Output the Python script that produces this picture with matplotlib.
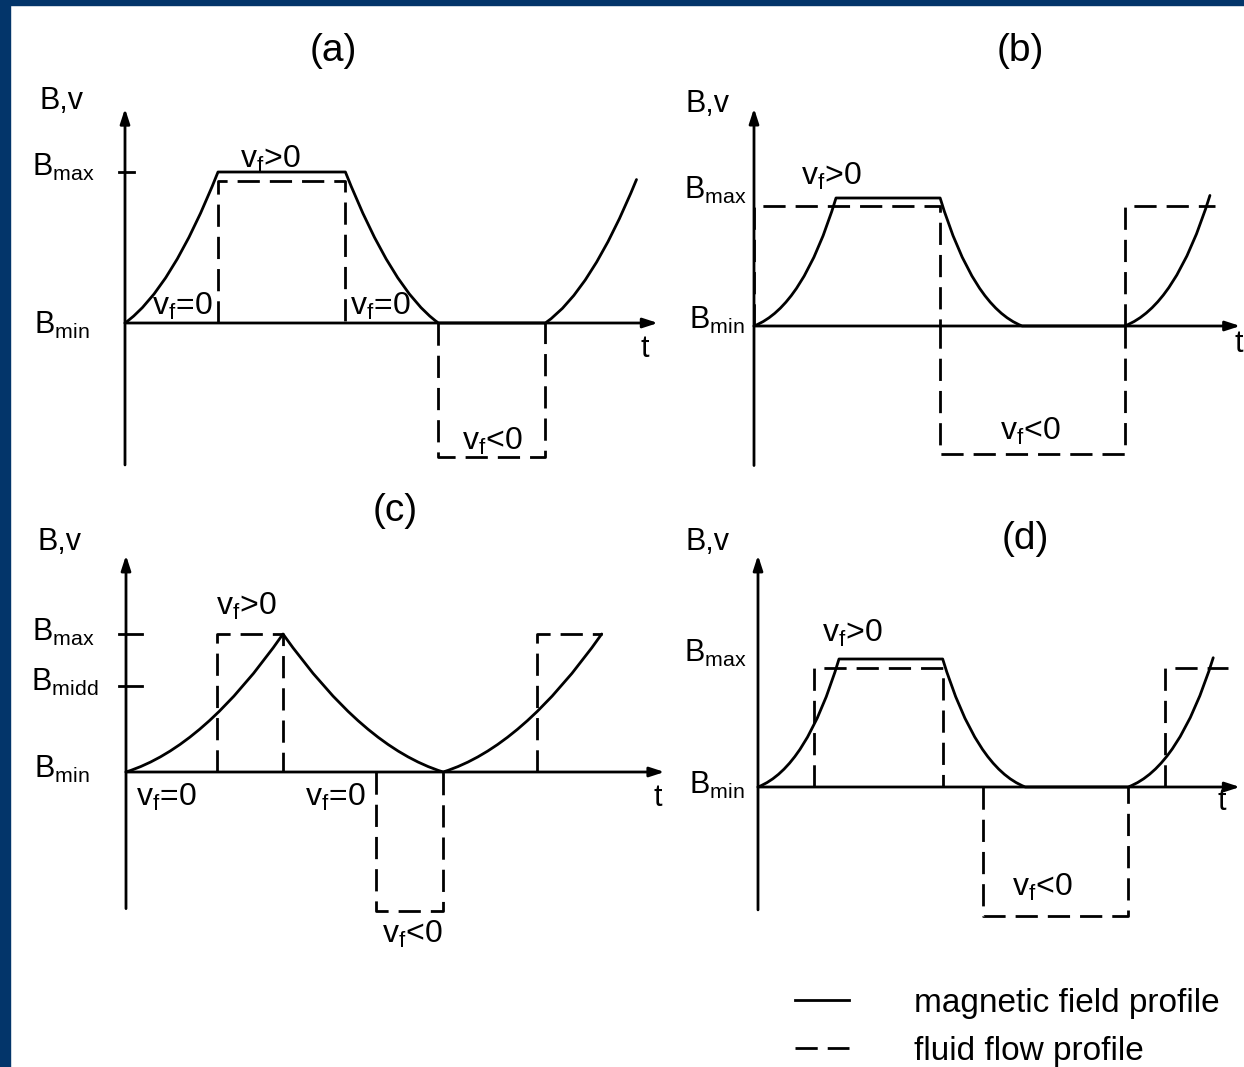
import matplotlib
matplotlib.use("Agg")
import matplotlib.pyplot as plt
from matplotlib.path import Path
from matplotlib.patches import PathPatch, Rectangle
from matplotlib.lines import Line2D

plt.rcParams["font.family"] = ["Liberation Sans", "DejaVu Sans"]
plt.rcParams["mathtext.fontset"] = "custom"
plt.rcParams["mathtext.rm"] = "Liberation Sans"
plt.rcParams["mathtext.it"] = "Liberation Sans:italic"
plt.rcParams["mathtext.bf"] = "Liberation Sans:bold"
plt.rcParams["mathtext.sf"] = "Liberation Sans"
plt.rcParams["mathtext.default"] = "regular"

# ---------------------------------------------------------------------------
# Magnetic field profiles: knot times (one unit = one ramp duration) and
# field levels (0 = B_min, 1 = B_max).  Flow profiles: pulses given by their
# start time, end time and normalised fluid velocity.
# ---------------------------------------------------------------------------
# (a) trapezoidal field, flow during plateau and during the pause
field_t_a = [0.0, 1.0, 2.37, 3.37, 4.52, 5.50]
field_b_a = [0.0, 1.0, 1.0, 0.0, 0.0, 0.95]
flow_on_a = [1.0, 3.37]
flow_off_a = [2.37, 4.52]
flow_v_a = [0.94, -0.89]

# (b) trapezoidal field, flow reverses at the start of the decay
field_t_b = [0.0, 1.0, 2.27, 3.27, 4.52, 5.56]
field_b_b = [0.0, 1.0, 1.0, 0.0, 0.0, 1.02]
flow_on_b = [0.0, 2.27, 4.52]
flow_off_b = [2.27, 4.52, 5.62]
flow_v_b = [0.94, -1.00, 0.94]

# (c) triangular field with an intermediate level B_midd
field_t_c = [0.0, 1.0, 2.02, 3.03]
field_b_c = [0.0, 1.0, 0.0, 1.0]
flow_on_c = [0.58, 1.59, 2.62]
flow_off_c = [1.0, 2.02, 3.03]
flow_v_c = [1.0, -1.01, 1.0]
b_midd_c = 0.62

# (d) trapezoidal field, flow switched during the ramps
field_t_d = [0.0, 1.0, 2.28, 3.30, 4.57, 5.62]
field_b_d = [0.0, 1.0, 1.0, 0.0, 0.0, 1.01]
flow_on_d = [0.69, 2.78, 5.02]
flow_off_d = [2.28, 4.57, 5.80]
flow_v_d = [0.93, -1.01, 0.93]

# ---------------------------------------------------------------------------
W, H = 1244, 1067
LW = 2.0
DASH = (0, (8, 3.6))
NAVY = "#03356a"

fig = plt.figure(figsize=(W / 100, H / 100), dpi=100)
fig.patch.set_facecolor("white")


def fpos(x, y):
    """Pixel position (from top-left) -> figure fraction."""
    return x / W, 1 - y / H


def panel(origin, sx, sy):
    """Transparent full-figure axes whose data origin sits at `origin`."""
    ox, oy = origin
    ax = fig.add_axes([0, 0, 1, 1])
    ax.set_xlim(-ox / sx, (W - ox) / sx)
    ax.set_ylim(-(H - oy) / sy, oy / sy)
    ax.set_axis_off()
    ax.patch.set_alpha(0)
    return ax


def draw(ax, field_t, field_b, bend, on, off, vel, open_end,
         y_lo, y_hi, x_tip, ticks=(), tick_w=(0.06, 0.1)):
    arrow = dict(arrowstyle="-|>,head_length=0.4,head_width=0.13", lw=LW,
                 color="k", shrinkA=0, shrinkB=0, mutation_scale=22)
    ax.annotate("", xy=(0, y_hi), xytext=(0, y_lo), arrowprops=arrow)
    ax.annotate("", xy=(x_tip, 0), xytext=(0, 0), arrowprops=arrow)
    for lvl in ticks:
        ax.plot([-tick_w[0], tick_w[1]], [lvl, lvl], color="k", lw=LW)

    # field: flat parts as lines, ramps as quadratic Bezier arcs; `bend`
    # places the control point (fraction of ramp time from the low end,
    # fraction of the ramp height)
    cx, cy = bend
    verts = [(field_t[0], field_b[0])]
    codes = [Path.MOVETO]
    for i in range(1, len(field_t)):
        t0, b0, t1, b1 = field_t[i - 1], field_b[i - 1], field_t[i], field_b[i]
        if b0 == b1:
            verts.append((t1, b1))
            codes.append(Path.LINETO)
            continue
        dt, h, low = t1 - t0, abs(b1 - b0), min(b0, b1)
        frac = cx if b1 > b0 else 1 - cx
        verts += [(t0 + frac * dt, low + cy * h), (t1, b1)]
        codes += [Path.CURVE3, Path.CURVE3]
    ax.add_patch(PathPatch(Path(verts, codes), fill=False, lw=LW, ec="k",
                           joinstyle="round", capstyle="round"))

    # fluid flow pulses
    n = len(on)
    for k in range(n):
        xs, ys = [on[k], on[k], off[k]], [0, vel[k], vel[k]]
        if not (open_end and k == n - 1):
            xs.append(off[k])
            ys.append(0)
        ax.plot(xs, ys, color="k", lw=LW, ls=DASH, dash_capstyle="butt")


ax_a = panel((125, 323), 93, 151)
draw(ax_a, field_t_a, field_b_a, (0.5, 0.22), flow_on_a, flow_off_a, flow_v_a,
     False, -0.94, 1.42, 5.73, ticks=[1.0])

ax_b = panel((754, 326), 82, 128)
draw(ax_b, field_t_b, field_b_b, (0.6, 0.15), flow_on_b, flow_off_b, flow_v_b,
     True, -1.09, 1.70, 5.93)

ax_c = panel((126, 772), 157, 138)
draw(ax_c, field_t_c, field_b_c, (0.5, 0.18), flow_on_c, flow_off_c, flow_v_c,
     True, -0.99, 1.57, 3.43, ticks=[1.0, b_midd_c], tick_w=(0.045, 0.1))

ax_d = panel((758, 787), 81, 128)
draw(ax_d, field_t_d, field_b_d, (0.6, 0.15), flow_on_d, flow_off_d, flow_v_d,
     True, -0.96, 1.81, 5.95)

# ---------------------------------------------------------------------------
# Text
FS = 22
titles = [("(a)", 333, 51), ("(b)", 1020, 51), ("(c)", 395, 511), ("(d)", 1025, 539)]
for s, x, y in titles:
    fig.text(*fpos(x, y), s, ha="center", va="center", fontsize=28)

for x, y in [(40, 109), (686, 112), (38, 550), (686, 550)]:
    fig.text(*fpos(x, y), "B,v", ha="left", va="baseline", fontsize=FS)

levels = [
    ("max", 95, 176), ("min", 90, 334),
    ("max", 747, 199), ("min", 745, 329),
    ("max", 95, 641), ("midd", 98, 691), ("min", 90, 778),
    ("max", 747, 662), ("min", 745, 794),
]
for sub, x, y in levels:
    fig.text(*fpos(x, y), r"$\mathregular{B_{%s}}$" % sub, ha="right",
             va="baseline", fontsize=FS)

flow_labels = [
    (">", 270, 168), ("=", 182, 315), ("=", 380, 315), ("<", 492, 450),
    (">", 831, 185), ("<", 1030, 440),
    (">", 246, 615), ("=", 166, 806), ("=", 335, 806), ("<", 412, 943),
    (">", 852, 642), ("<", 1042, 896),
]
for op, x, y in flow_labels:
    fig.text(*fpos(x, y), r"$\mathregular{v_f}\text{%s0}$" % op, ha="center",
             va="baseline", fontsize=23)

for x, y in [(645, 357), (1239, 352), (658, 806), (1222, 810)]:
    fig.text(*fpos(x, y), "t", ha="center", va="baseline", fontsize=FS)

# legend
handles = [Line2D([], [], color="k", lw=LW),
           Line2D([], [], color="k", lw=LW, ls=DASH, dash_capstyle="butt")]
fig.legend(handles, ["magnetic field profile", "fluid flow profile"],
           loc="upper left", bbox_to_anchor=fpos(795, 988), frameon=False,
           fontsize=24, handlelength=1.62, handletextpad=1.95,
           labelspacing=0.5, borderpad=0, borderaxespad=0)

# frame bands
fig.patches.append(Rectangle((0, 1 - 5 / H), 1, 5 / H, transform=fig.transFigure,
                             color=NAVY, zorder=10))
fig.patches.append(Rectangle((0, 0), 10 / W, 1, transform=fig.transFigure,
                             color=NAVY, zorder=10))

fig.savefig("out.png", dpi=100, facecolor="white")
